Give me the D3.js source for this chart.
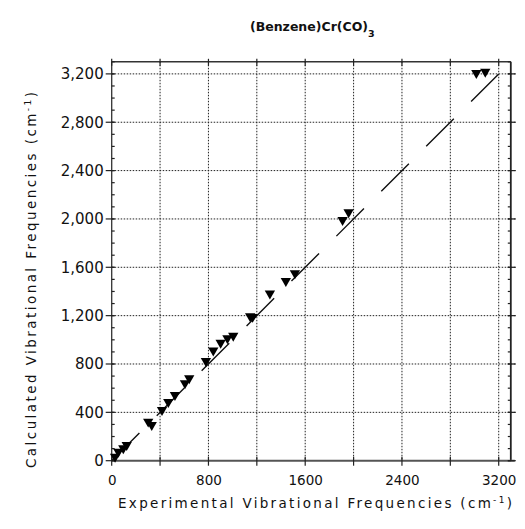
<!DOCTYPE html>
<html><head><meta charset="utf-8">
<script src="https://cdn.jsdelivr.net/npm/d3@7"></script>
<style>body{margin:0;background:#fff}</style>
</head><body><svg id="c" width="525" height="529"></svg>
<script>
// Data
const experimental = [28, 55, 96, 124, 302, 331, 416, 468, 523, 606, 641, 779, 840, 901, 957, 1005, 1145, 1165, 1308, 1440, 1515, 1909, 1959, 3015, 3089];
const calculated   = [33, 74, 103, 130, 323, 295, 419, 486, 544, 640, 682, 825, 912, 976, 1013, 1034, 1195, 1190, 1383, 1487, 1550, 1991, 2055, 3207, 3218];
const xLabelTicks = [0, 800, 1600, 2400, 3200];
const majorTicks = [0, 400, 800, 1200, 1600, 2000, 2400, 2800, 3200];
const minorTicks = d3.range(0, 3301, 100);
const fitLine = [[0, 0], [3200, 3200]];
const domainMax = 3300;

const svg = d3.select("#c");
const L = 111.7, R = 510.8, T = 61.8, B = 460.7;
const x = d3.scaleLinear().domain([0, domainMax]).range([L, R]);
const y = d3.scaleLinear().domain([0, domainMax]).range([B, T]);

// gridlines
const grid = svg.append("g").attr("stroke", "#222").attr("stroke-width", 1).attr("stroke-dasharray", "1.5,1.5");
grid.selectAll("line.h").data(majorTicks.filter(d => d > 0)).join("line")
  .attr("x1", L).attr("x2", R + 5).attr("y1", d => y(d)).attr("y2", d => y(d));
grid.selectAll("line.v").data(majorTicks.filter(d => d > 0)).join("line").attr("class","v")
  .attr("x1", d => x(d)).attr("x2", d => x(d)).attr("y1", T).attr("y2", B);

// frame lines
svg.append("line").attr("x1", L).attr("x2", R).attr("y1", T).attr("y2", T).attr("stroke", "#333").attr("stroke-width", 1.5);
svg.append("line").attr("x1", R).attr("x2", R).attr("y1", T).attr("y2", B).attr("stroke", "#222").attr("stroke-width", 1.8);
svg.append("line").attr("x1", L).attr("x2", L).attr("y1", T).attr("y2", B).attr("stroke", "#333").attr("stroke-width", 1.3);
svg.append("line").attr("x1", L).attr("x2", R + 4).attr("y1", B).attr("y2", B).attr("stroke", "#555").attr("stroke-width", 2);

// ticks
const tk = svg.append("g").attr("stroke", "#222").attr("stroke-width", 1.2);
tk.selectAll("line.lm").data(majorTicks).join("line").attr("class","lm")
  .attr("x1", L - 6).attr("x2", L + 3).attr("y1", d => y(d)).attr("y2", d => y(d));
tk.selectAll("line.ln").data(minorTicks).join("line").attr("class","ln")
  .attr("x1", L).attr("x2", L + 3).attr("y1", d => y(d)).attr("y2", d => y(d));
tk.selectAll("line.rm").data(majorTicks).join("line").attr("class","rm")
  .attr("x1", R - 3).attr("x2", R + 5).attr("y1", d => y(d)).attr("y2", d => y(d));
tk.selectAll("line.rn").data(minorTicks).join("line").attr("class","rn")
  .attr("x1", R - 3).attr("x2", R).attr("y1", d => y(d)).attr("y2", d => y(d));
tk.selectAll("line.tm").data(majorTicks).join("line").attr("class","tm")
  .attr("x1", d => x(d)).attr("x2", d => x(d)).attr("y1", T - 3).attr("y2", T + 4);
tk.selectAll("line.bm").data(majorTicks).join("line").attr("class","bm")
  .attr("x1", d => x(d)).attr("x2", d => x(d)).attr("y1", B - 4).attr("y2", B + 5);

// axis labels via d3 axes
const xAxis = d3.axisBottom(x).tickValues(xLabelTicks).tickFormat(d3.format("d")).tickSize(0).tickPadding(15);
const gx = svg.append("g").attr("transform", `translate(0,${B})`).call(xAxis);
gx.select(".domain").remove();
gx.selectAll("text").attr("font-family", "DejaVu Sans").attr("font-size", 13.5).attr("fill", "#111");

const yAxis = d3.axisLeft(y).tickValues(majorTicks).tickFormat(d3.format(",")).tickSize(0).tickPadding(8);
const gy = svg.append("g").attr("transform", `translate(${L},0)`).call(yAxis);
gy.select(".domain").remove();
gy.selectAll("text").attr("font-family", "DejaVu Sans").attr("font-size", 15).attr("fill", "#111");

// dashed fit line (dashes anchored at the top end)
svg.append("line")
  .attr("x1", x(fitLine[1][0])).attr("y1", y(fitLine[1][1]))
  .attr("x2", x(fitLine[0][0])).attr("y2", y(fitLine[0][1]))
  .attr("stroke", "#111").attr("stroke-width", 1.4).attr("stroke-dasharray", "39,24.5");

// points
const tri = d3.symbol().type(d3.symbolTriangle).size(46);
svg.append("g").selectAll("path").data(experimental.map((v, i) => [v, calculated[i]])).join("path")
  .attr("d", tri)
  .attr("transform", d => `translate(${x(d[0])},${y(d[1])}) rotate(180)`)
  .attr("fill", "#000");

// title
const title = svg.append("text").attr("x", 250).attr("y", 31)
  .attr("font-family", "DejaVu Sans").attr("font-weight", "bold").attr("font-size", 12.5).attr("fill", "#111");
title.append("tspan").text("(Benzene)Cr(CO)");
title.append("tspan").attr("dy", 6).attr("font-size", 9.5).text("3");

// x title
const xt = svg.append("text").attr("x", 118).attr("y", 508)
  .attr("font-family", "DejaVu Sans").attr("font-size", 13.5).attr("fill", "#111")
  .attr("textLength", 394).attr("lengthAdjust", "spacing");
xt.append("tspan").text("Experimental Vibrational Frequencies (cm");
xt.append("tspan").attr("dy", -5).attr("font-size", 9).text("-1");
xt.append("tspan").attr("dy", 5).text(")");

// y title
const yt = svg.append("text").attr("transform", "translate(36,468) rotate(-90)")
  .attr("font-family", "DejaVu Sans").attr("font-size", 13.5).attr("fill", "#111")
  .attr("textLength", 376).attr("lengthAdjust", "spacing");
yt.append("tspan").text("Calculated Vibrational Frequencies (cm");
yt.append("tspan").attr("dy", -5).attr("font-size", 9).text("-1");
yt.append("tspan").attr("dy", 5).text(")");
</script>
</body></html>
